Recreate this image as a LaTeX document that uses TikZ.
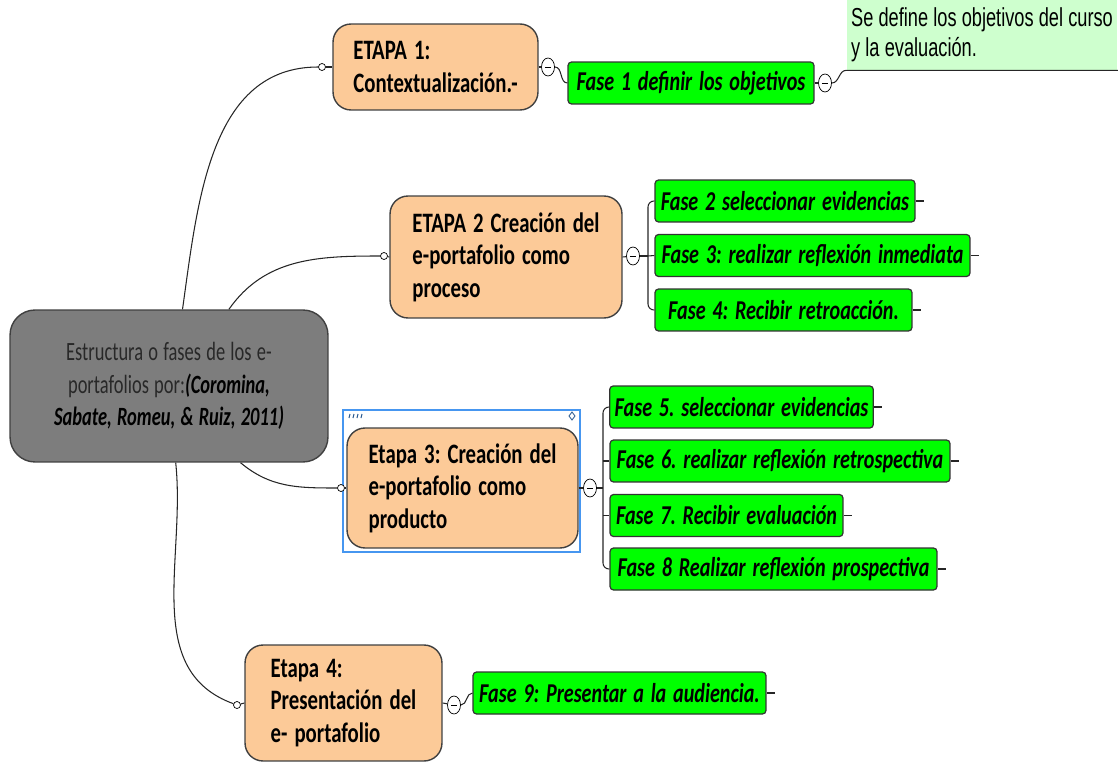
\documentclass[tikz,border=0pt]{standalone}
\usepackage{fontspec}
\setmainfont{Carlito}[FakeStretch=0.74]
\newfontfamily\rootfont{Carlito}[FakeStretch=0.7]
\newfontfamily\notefont{Liberation Sans}[FakeStretch=0.7]
\usetikzlibrary{shapes.geometric}
\newcommand\wordsp[1]{\frenchspacing\spaceskip=#1em plus 0.05em\relax}
\definecolor{rootgray}{RGB}{125,125,125}
\definecolor{roottext}{RGB}{40,40,40}
\definecolor{peach}{RGB}{252,202,152}
\definecolor{fasegreen}{RGB}{0,255,0}
\definecolor{notegreen}{RGB}{206,255,206}
\definecolor{selblue}{RGB}{70,150,240}
\tikzset{
  rootbox/.style={draw=black!75, fill=rootgray, line width=0.8pt, rounded corners=0.5cm,
    minimum width=6.36cm, minimum height=3.04cm, align=center, text=roottext,
    font=\rootfont\fontsize{15}{18.5}\selectfont\wordsp{0.2}},
  etapa/.style={draw=black!75, fill=peach, line width=0.8pt, rounded corners=0.36cm,
    inner xsep=0.2cm, align=left, minimum width=#1,
    font=\fontsize{16}{18.5}\selectfont\bfseries\wordsp{0.25}},
  fase/.style={draw=black!80, fill=fasegreen, line width=0.7pt, rounded corners=2pt,
    inner xsep=0.1cm, minimum height=0.84cm, minimum width=#1,
    font=\fontsize{15.5}{16}\selectfont\bfseries\itshape\wordsp{0.25}},
  notebox/.style={fill=notegreen, inner xsep=0.01cm, minimum width=5.42cm, minimum height=1.4cm,
    align=left, font=\notefont\fontsize{14.8}{17}\selectfont\wordsp{0.2}},
  dot/.style={circle, draw, fill=white, inner sep=0pt, minimum size=0.14cm},
  toggle/.style={ellipse, draw, fill=white, inner sep=0pt, minimum width=0.26cm,
    minimum height=0.36cm, path picture={\draw (path picture bounding box.center)
    +(-1.8pt,0pt) -- +(1.8pt,0pt);}},
  link/.style={draw=black!85, line width=0.6pt},
  tail/.style={draw=black!85, line width=0.6pt}
}
\begin{document}
\begin{tikzpicture}[x=0.02cm, y=-0.02cm]
            \useasboundingbox (0,0) rectangle (1118,763);
            \node[rootbox] (root) at (169,386) {Estructura o fases de los e-\\portafolios por:{\color{black}\bfseries\itshape(Coromina,}\\{\color{black}\bfseries\itshape Sabate, Romeu, \& Ruiz, 2011)}};
            \node[etapa=4.1cm, minimum height=1.72cm] (e1) at (435.5,67) {ETAPA 1:\\Contextualización.-};
            \node[etapa=4.64cm, minimum height=2.44cm] (e2) at (506,257) {ETAPA 2 Creación del\\e-portafolio como\\proceso};
            \node[etapa=4.62cm, minimum height=2.4cm] (e3) at (462.5,488) {Etapa 3: Creación del\\e-portafolio como\\producto};
            \node[etapa=3.94cm, minimum height=2.32cm] (e4) at (343.5,703) {Etapa 4:\\Presentación del\\e- portafolio};
            \node[fase=4.92cm] (f1) at (691,83) {Fase 1 definir los objetivos};
            \node[fase=5.2cm] (f2) at (785,201) {Fase 2 seleccionar evidencias};
            \node[fase=6.3cm] (f3) at (812.5,255.5) {Fase 3: realizar reflexión inmediata};
            \node[fase=5.14cm] (f4) at (783.5,310) {Fase 4: Recibir retroacción.};
            \node[fase=5.26cm] (f5) at (741.5,407) {Fase 5. seleccionar evidencias};
            \node[fase=6.8cm] (f6) at (780,461) {Fase 6. realizar reflexión retrospectiva};
            \node[fase=4.66cm] (f7) at (726.5,515.5) {Fase 7. Recibir evaluación};
            \node[fase=6.54cm] (f8) at (773.5,569) {Fase 8 Realizar reflexión prospectiva};
            \node[fase=5.86cm] (f9) at (619.5,693) {Fase 9: Presentar a la audiencia.};
            \node[notebox] (note) at (982,35) {Se define los objetivos del curso\\y la evaluación.};
            \draw[selblue, line width=1.6pt] (343,410) rectangle (580,552);
            \foreach \i in {0,...,3}
                \draw[selblue!60!black, line width=0.6pt] (350+4*\i,414) -- (349+4*\i,418);
            \draw[selblue!60!black, line width=0.5pt] (572,412) -- (575,416) -- (572,420) -- (569,416) -- cycle;
            \node[dot] (d1) at (322,67) {};
            \node[dot] (d2) at (384,256) {};
            \node[dot] (d3) at (341,488) {};
            \node[dot] (d4) at (237,705) {};
            \node[toggle] (t1) at (548,67) {};
            \node[toggle] (t2) at (633,256) {};
            \node[toggle] (t3) at (590,488) {};
            \node[toggle] (t4) at (454,705) {};
            \node[toggle] (tf1) at (825,83) {};
            \coordinate (b2) at (648,256);
            \coordinate (b3) at (603,488);
            \draw[link] (root.80) to[out=82, in=180] (d1);
            \draw[link] (root.52) to[out=55, in=180] (d2);
            \draw[link] (root.-47) to[out=-40, in=180] (d3);
            \draw[link] (root.-85) to[out=-84, in=160] (d4);
            \draw[link] (d1) -- (e1.west);
            \draw[link] (d2) -- (e2.west);
            \draw[link] (d3) -- (e3.west);
            \draw[link] (d4) -- (e4.west);
            \draw[link] (e1.east) -- (t1);
            \draw[link] (e2.east) -- (t2);
            \draw[link] (e3.east) -- (t3);
            \draw[link] (e4.east) -- (t4);
            \draw[link] (t1.east) to[out=0, in=180] (f1.west);
            \draw[link] (f1.east) -- (tf1);
            \draw[link] (tf1.east) to[out=0, in=180] (note.south west) -- (note.south east);
            \draw[link] (t2.east) -- (b2);
            \draw[link, rounded corners=0.12cm] (f2.west) -| (b2) |- (f4.west);
            \draw[link] (b2) -- (f3.west);
            \draw[link] (t3.east) -- (b3);
            \draw[link, rounded corners=0.12cm] (f5.west) -| (b3) |- (f8.west);
            \draw[link] (f6.west -| b3) -- (f6.west);
            \draw[link] (f7.west -| b3) -- (f7.west);
            \draw[link] (t4.east) to[out=0, in=180] (f9.west);
            \foreach \f in {f2,f3,f4,f5,f6,f7,f8,f9}
                \draw[tail] (\f.east) -- ++(8,0);
\end{tikzpicture}
\end{document}
